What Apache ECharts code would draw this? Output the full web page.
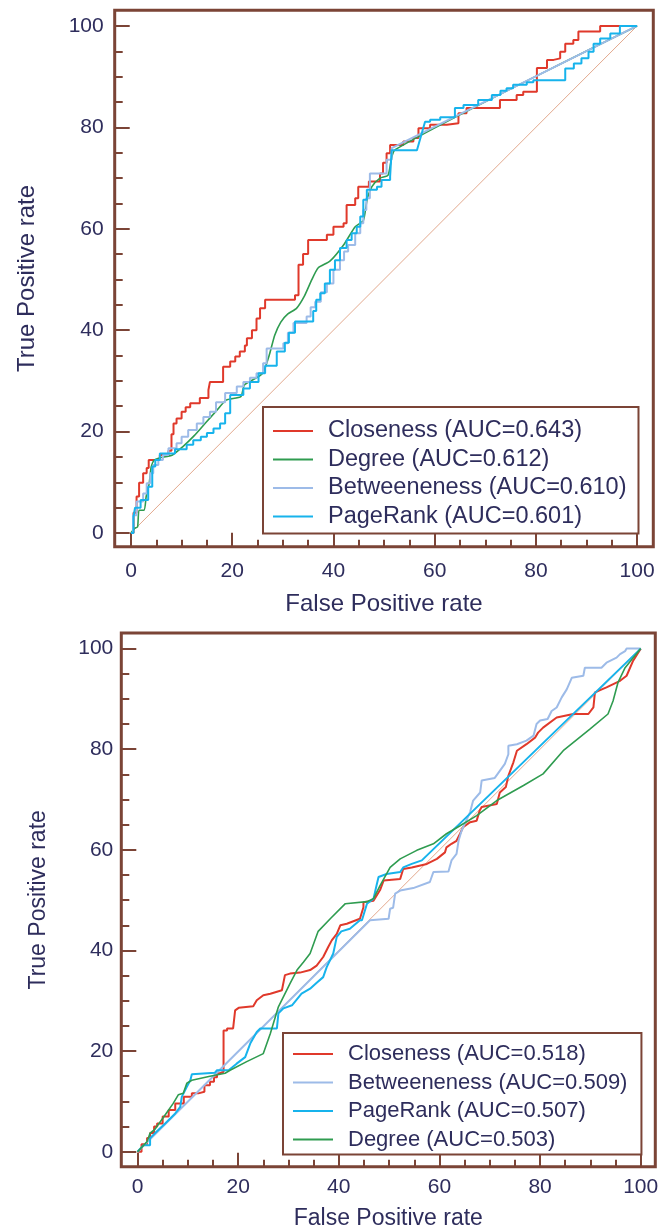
<!DOCTYPE html>
<html>
<head>
<meta charset="utf-8">
<script src="https://cdn.jsdelivr.net/npm/echarts@6/dist/echarts.min.js"></script>
<style>
  html, body { margin: 0; padding: 0; background: #fff; }
  #roc { width: 667px; height: 1229px; }
</style>
</head>
<body>
<div id="roc"></div>
<script>
// tick values (both panels)
var majorTicks = [0, 20, 40, 60, 80, 100];
var minorTicks = [5, 10, 15, 25, 30, 35, 45, 50, 55, 65, 70, 75, 85, 90, 95];

// ---- top panel ----
var topNames = ['Closeness (AUC=0.643)', 'Degree (AUC=0.612)', 'Betweeneness (AUC=0.610)', 'PageRank (AUC=0.601)'];
var topCloseness = [[0,0],[0.5,0],[0.5,4],[1.1,4],[1.1,7.2],[1.6,7.2],[1.6,9.9],[2.4,9.9],[2.4,11.8],[3.1,11.8],[3.1,12.8],[3.5,12.8],[3.5,14.4],[5.7,14.4],[5.7,15.4],[7.4,15.4],[7.4,16.2],[8,16.2],[8,19.5],[8.4,19.5],[8.4,21.6],[9,21.6],[9,22.6],[10,22.6],[10,23.9],[10.8,23.9],[10.8,24.8],[11.7,24.8],[11.7,25.6],[13.6,25.6],[13.6,26.6],[15.3,26.6],[15.3,28.2],[15.6,28.2],[15.6,29.8],[18.2,29.8],[18.2,32.8],[19.6,32.8],[19.6,33.8],[20.6,33.8],[20.6,34.8],[21.5,34.8],[21.5,35.8],[22.5,35.8],[22.5,37],[22.9,37],[22.9,38.4],[23.9,38.4],[23.9,40],[24.8,40],[24.8,42.3],[25.5,42.3],[25.5,44.3],[26.5,44.3],[26.5,46],[32.4,46],[32.4,46.9],[33.1,46.9],[33.1,52.9],[34,52.9],[34,55],[35,55],[35,57.8],[38.7,57.8],[38.7,58.8],[40,58.8],[40,60.4],[42,60.4],[42,61.1],[42.6,61.1],[42.6,64.7],[44.3,64.7],[44.3,66],[44.9,66],[44.9,68.3],[47,68.3],[47,69.3],[49.2,69.3],[49.2,70.9],[49.8,70.9],[49.8,73],[50.5,73],[50.5,74.9],[51.2,74.9],[51.2,76.5],[53.8,76.5],[53.8,77.2],[55.8,77.2],[55.8,77.9],[56.8,77.9],[56.8,79.8],[59.1,79.8],[59.1,80.5],[62.4,80.5],[62.4,80.8],[64.7,80.8],[64.7,82.8],[66.3,82.8],[66.3,83.8],[72.9,83.8],[72.9,85.4],[76.2,85.4],[76.2,86.4],[77.5,86.4],[77.5,87],[80.2,87],[80.2,91.7],[82.2,91.7],[82.2,93.3],[83.5,93.3],[83.5,93.6],[84.8,93.6],[84.8,94.9],[85.8,94.9],[85.8,96.5],[87.4,96.5],[87.4,97.2],[88.4,97.2],[88.4,98.9],[92.7,98.9],[92.7,100],[100,100]];
var topDegree = [[0,0],[0.7,0.9],[1.3,1.2],[1.6,4.5],[2.6,4.5],[3,7.2],[3.6,9.8],[4,13.1],[4.6,14.4],[5.6,14.8],[8.2,15.4],[10.2,17],[12.5,19.2],[14.8,21.8],[16.8,24],[18.8,26.2],[21.7,26.9],[22.4,29.2],[24.8,30.6],[26.1,31.6],[27.3,35],[28.4,39],[29.6,41.6],[31,43.2],[32.7,44.3],[34.2,46.6],[35.7,49.9],[37,52.3],[39.3,53.6],[42,56.8],[44.3,60.4],[45.9,61.6],[46.7,66],[47.6,68.3],[49.2,70],[50.8,70.6],[52.2,75.6],[100,100]];
var topBetweeness = [[0,0],[0.4,0],[0.4,3.5],[1.1,3.5],[1.1,6.2],[2.4,6.2],[2.4,7.8],[3.1,7.8],[3.1,9.8],[3.8,9.8],[3.8,11.8],[4.4,11.8],[4.4,13.4],[5.4,13.4],[5.4,14.4],[6.3,14.4],[6.3,15.4],[7.4,15.4],[7.4,16.7],[9,16.7],[9,17.7],[10,17.7],[10,19],[11.3,19],[11.3,20.3],[13,20.3],[13,21.6],[14.3,21.6],[14.3,22.9],[15.6,22.9],[15.6,23.9],[16.8,23.9],[16.8,25.8],[18.6,25.8],[18.6,27.6],[20.9,27.6],[20.9,28.9],[22.2,28.9],[22.2,29.8],[23.5,29.8],[23.5,30.6],[24.8,30.6],[24.8,31.5],[26.1,31.5],[26.1,33.5],[26.8,33.5],[26.8,36.4],[30.1,36.4],[30.1,37.4],[31,37.4],[31,39.5],[32.1,39.5],[32.1,41.4],[34.7,41.4],[34.7,42.7],[35.5,42.7],[35.5,44.5],[36.4,44.5],[36.4,45.6],[37.5,45.6],[37.5,47.5],[38.7,47.5],[38.7,49.2],[40,49.2],[40,51.9],[41.3,51.9],[41.3,53.8],[42.1,53.8],[42.1,55.5],[42.9,55.5],[42.9,56.8],[44.3,56.8],[44.3,59.1],[45.3,59.1],[45.3,61.1],[45.9,61.1],[45.9,63.7],[46.5,63.7],[46.5,66],[47.2,66],[47.2,70.9],[50.5,70.9],[50.5,73.6],[51.5,73.6],[51.5,75.9],[100,100]];
var topPageRank = [[0,0],[0.5,0],[0.5,3.2],[0.8,3.2],[0.8,5],[1.9,5],[1.9,6.5],[3.4,6.5],[3.4,9.1],[4.2,9.1],[4.2,13.1],[4.8,13.1],[4.8,14.4],[5.7,14.4],[5.7,15.7],[8.7,15.7],[8.7,16.5],[11,16.5],[11,17.4],[12.3,17.4],[12.3,18.3],[13.8,18.3],[13.8,19],[15,19],[15,19.7],[16.3,19.7],[16.3,20.6],[17.6,20.6],[17.6,21.6],[18.6,21.6],[18.6,23.6],[19.6,23.6],[19.6,27.2],[22.2,27.2],[22.2,28.5],[23.5,28.5],[23.5,29.8],[25.2,29.8],[25.2,31.5],[26.5,31.5],[26.5,33],[28.8,33],[28.8,35.8],[30.4,35.8],[30.4,37.5],[31.2,37.5],[31.2,39.5],[32.4,39.5],[32.4,41.7],[36,41.7],[36,43.8],[36.6,43.8],[36.6,46],[37.4,46],[37.4,47.3],[38.3,47.3],[38.3,49.2],[39.3,49.2],[39.3,51.9],[40.3,51.9],[40.3,53.8],[41.3,53.8],[41.3,56.2],[42.6,56.2],[42.6,57.8],[43.6,57.8],[43.6,59.1],[44.6,59.1],[44.6,60.4],[45.3,60.4],[45.3,62.4],[45.9,62.4],[45.9,65.7],[46.6,65.7],[46.6,67.7],[48.6,67.7],[48.6,68.3],[49.5,68.3],[49.5,69.6],[51.2,69.6],[51.2,70.3],[51.5,70.3],[51.5,75.5],[56.5,75.5],[58.1,81.1],[59.1,81.1],[59.1,81.5],[61.1,81.5],[61.1,82],[64,82],[64,83.8],[65.7,83.8],[65.7,84.4],[68.6,84.4],[68.6,85.4],[71.3,85.4],[71.3,86.4],[73,86.4],[73,87.2],[74.2,87.2],[74.2,87.7],[75.5,87.7],[75.5,88.4],[78.2,88.4],[78.2,88.9],[79.5,88.9],[79.5,89.3],[85.8,89.3],[85.8,91.6],[87.5,91.6],[87.5,92.6],[89,92.6],[89,93.6],[90.4,93.6],[90.4,94.9],[91.4,94.9],[91.4,96.5],[92.7,96.5],[92.7,97.5],[94.7,97.5],[94.7,98.5],[96.6,98.5],[96.6,100],[100,100]];

// ---- bottom panel ----
var botNames = ['Closeness (AUC=0.518)', 'Betweeneness (AUC=0.509)', 'PageRank (AUC=0.507)', 'Degree (AUC=0.503)'];
var botCloseness = [[0,0],[0.8,0],[0.8,1.5],[1.9,1.5],[1.9,2.7],[2.5,2.7],[2.5,3.7],[3.3,3.7],[3.3,5],[3.9,5],[3.9,5.6],[5,5.6],[5,7],[6.2,7],[6.2,8.3],[7.5,8.3],[7.5,9.6],[9.2,9.6],[9.2,10.9],[10.8,10.9],[10.8,11.6],[12.1,11.6],[12.1,11.9],[13.3,11.9],[13.3,13.2],[14.4,13.2],[14.4,13.9],[15.2,13.9],[15.2,14.8],[15.8,14.8],[15.8,15.6],[16.4,15.6],[16.4,15.9],[17.1,15.9],[17.1,24.1],[17.8,24.1],[17.8,24.5],[19,24.5],[19.4,28.1],[20.1,28.6],[23,28.9],[23.7,30.1],[25,31.1],[26.4,31.4],[28.7,32.1],[29.3,35.1],[30.3,35.4],[32.3,35.6],[34.3,36.1],[35.6,37],[36.9,38.7],[37.9,40.7],[38.6,42],[39.6,43.3],[40.3,45],[41.6,45.3],[44.2,46.3],[44.9,48.6],[44.9,49.6],[46.9,49.9],[48.2,52],[48.9,53.9],[52.2,54.2],[52.8,56.2],[54.5,56.5],[57.5,57.2],[59.5,58.2],[61.1,59.5],[61.4,60.5],[62.4,61.2],[63.4,61.8],[64.1,63.2],[64.7,64.5],[66.1,65.5],[67.4,65.8],[68,67.8],[68.4,68.5],[71.4,69.1],[72,71.4],[73.2,72.5],[73.7,74.7],[74.7,77.4],[75.4,79.7],[77.3,81],[79,82.3],[79.6,83.3],[80.6,84.3],[83.3,86.3],[86.6,87],[89.6,87],[90.6,88.3],[90.9,91.3],[93.2,92.3],[95.9,93.6],[97.2,94.6],[98.5,97.6],[100,100]];
var botBetweeness = [[0,0],[46.2,46],[49.9,46.3],[50.2,48.3],[50.8,48.5],[51.2,51.3],[52.2,51.9],[54.8,52.4],[58.1,53.6],[58.8,55.6],[61.8,55.7],[62.4,57.9],[63.4,59.2],[63.8,61.8],[64.4,63.8],[66.1,67.5],[66.7,69.8],[68.1,71.4],[68.4,73.8],[71,74.3],[73,77.1],[73.7,79],[73.7,80.7],[75.4,81],[77.3,81.7],[78.7,82.7],[79.3,85],[80,85.7],[81.5,86],[82.3,87.6],[83.3,88.3],[84.3,90.3],[85.3,91.9],[86.3,94.2],[88.6,94.6],[88.9,96.2],[92.2,96.2],[93.2,97.2],[95.2,98.2],[95.9,98.9],[96.9,99.5],[97.2,100],[100,100]];
var botPageRank = [[0,0],[1.2,1.3],[2.5,1.3],[2.5,2.7],[3.5,3.7],[5.5,5.6],[6.5,6.6],[7.5,7.6],[8.5,8.9],[8.8,10.9],[9.8,12.9],[10.5,14.2],[10.8,15.4],[15.4,15.7],[15.8,16.2],[18.1,16.2],[19.7,17.5],[21.4,18.8],[22.4,21.5],[23.7,23.8],[24.4,24.5],[27.7,24.5],[28,27.5],[29,28.5],[30.7,29.1],[32.6,31.4],[34.3,32.4],[35.5,33.5],[36.9,34.7],[37.6,36.7],[38.9,39.4],[39.6,42.7],[40.5,43.8],[42.2,44.3],[44.2,46],[44.6,46],[45.6,49.3],[46.9,50.3],[47.5,52.9],[47.9,54.6],[49.5,55.2],[52.2,55.6],[52.8,56.5],[54.5,57.2],[56.5,57.9],[100,100]];
var botDegree = [[0,0],[1.9,2],[2.5,3.7],[3.5,4.5],[5.2,6.9],[7.1,9.6],[8.1,11.3],[9.1,11.6],[9.8,13.6],[10.8,14.2],[14.4,15],[17.4,15.6],[18.4,16.2],[21.7,17.9],[25,19.5],[26.4,23.5],[28,28.8],[30.3,33.4],[31.7,36.1],[33,37.7],[34.3,39.4],[35.9,43.8],[38.4,46.4],[41.3,49.3],[45.6,49.7],[46.9,50.3],[48.2,52.9],[50.2,56.5],[52.2,58.2],[55.5,59.9],[58.8,61.2],[61.4,63.2],[64.1,64.8],[67.4,66.8],[71.4,69.8],[76.7,72.8],[80.6,75.1],[84.6,79.7],[89.9,84],[93.5,87],[94.5,89.6],[95.5,93.3],[96.9,96.2],[100,100]];

var chance = [[0,0],[100,100]];

var brown = '#7b4436';
var ink = '#2e2d5c';
var cRed = '#e0392b', cGreen = '#2f9c50', cLight = '#9dbbe8', cCyan = '#17b3ec';
var font = "'Liberation Sans', Arial, sans-serif";

function xAxes(grid, min, max, labelMargin, nameGap, nameSize) {
  return [{
    gridIndex: grid, type: 'value', position: 'bottom', min: min, max: max,
    axisLine: { show: false, onZero: false }, splitLine: { show: false },
    axisTick: { inside: true, length: 14, customValues: majorTicks, lineStyle: { color: brown, width: 2 } },
    axisLabel: { customValues: majorTicks, fontSize: 21, color: ink, fontFamily: font, margin: labelMargin },
    name: 'False Positive rate', nameLocation: 'middle', nameGap: nameGap,
    nameTextStyle: { fontSize: nameSize, color: ink, fontFamily: font }
  }, {
    gridIndex: grid, type: 'value', position: 'bottom', min: min, max: max,
    axisLine: { show: false, onZero: false }, splitLine: { show: false },
    axisTick: { inside: true, length: 7, customValues: minorTicks, lineStyle: { color: brown, width: 2 } },
    axisLabel: { show: false }
  }];
}
function yAxes(grid, min, max, labelMargin, nameGap, nameSize) {
  return [{
    gridIndex: grid, type: 'value', position: 'left', min: min, max: max,
    axisLine: { show: false, onZero: false }, splitLine: { show: false },
    axisTick: { inside: true, length: 15, customValues: majorTicks, lineStyle: { color: brown, width: 2 } },
    axisLabel: { customValues: majorTicks, fontSize: 21, color: ink, fontFamily: font, margin: labelMargin },
    name: 'True Positive rate', nameLocation: 'middle', nameGap: nameGap,
    nameTextStyle: { fontSize: nameSize, color: ink, fontFamily: font }
  }, {
    gridIndex: grid, type: 'value', position: 'left', min: min, max: max,
    axisLine: { show: false, onZero: false }, splitLine: { show: false },
    axisTick: { inside: true, length: 8, customValues: minorTicks, lineStyle: { color: brown, width: 2 } },
    axisLabel: { show: false }
  }];
}
function line(name, data, color, xi, yi, width, smooth) {
  return {
    name: name, type: 'line', xAxisIndex: xi, yAxisIndex: yi, data: data,
    showSymbol: false, smooth: smooth || false,
    lineStyle: { color: color, width: width }, itemStyle: { color: color }
  };
}
function legend(names, left, top, pad, size) {
  return {
    data: names, orient: 'vertical', left: left, top: top,
    padding: pad, itemGap: 0.5, itemWidth: 40, itemHeight: 2, icon: 'rect',
    borderColor: brown, borderWidth: 2, backgroundColor: '#fff',
    textStyle: { fontSize: size, lineHeight: 28, color: ink, fontFamily: font, padding: [0, 0, 0, 10] }
  };
}

var chart = echarts.init(document.getElementById('roc'), null, { renderer: 'canvas' });
chart.setOption({
  animation: false,
  backgroundColor: '#fff',
  grid: [
    { left: 114.7, top: 10.2, width: 538.6, height: 536.6, show: true, borderColor: brown, borderWidth: 3, outerBoundsMode: 'none' },
    { left: 121.3, top: 633, width: 534, height: 533.7, show: true, borderColor: brown, borderWidth: 3, outerBoundsMode: 'none' }
  ],
  xAxis: xAxes(0, -3.22, 103.2, 14, 46, 24).concat(xAxes(1, -3.22, 102.9, 10, 40, 23)),
  yAxis: yAxes(0, -2.72, 103.1, 11, 75, 24).concat(yAxes(1, -2.98, 103.1, 8, 71, 23)),
  legend: [
    legend(topNames, 263, 407, [10, 12, 3, 10], 23.5),
    legend(botNames, 283, 1033, [7, 14, 1, 10], 22)
  ],
  series: [
    { type: 'line', xAxisIndex: 0, yAxisIndex: 0, data: chance, showSymbol: false, silent: true,
      lineStyle: { color: '#e3a98e', width: 1 } },
    line(topNames[0], topCloseness, cRed, 0, 0, 2),
    line(topNames[1], topDegree, cGreen, 0, 0, 1.6, 0.2),
    line(topNames[2], topBetweeness, cLight, 0, 0, 2),
    line(topNames[3], topPageRank, cCyan, 0, 0, 2),
    { type: 'line', xAxisIndex: 2, yAxisIndex: 2, data: chance, showSymbol: false, silent: true,
      lineStyle: { color: '#e3a98e', width: 1 } },
    line(botNames[0], botCloseness, cRed, 2, 2, 2),
    line(botNames[1], botBetweeness, cLight, 2, 2, 2),
    line(botNames[2], botPageRank, cCyan, 2, 2, 2),
    line(botNames[3], botDegree, cGreen, 2, 2, 1.6)
  ]
});
</script>
</body>
</html>
